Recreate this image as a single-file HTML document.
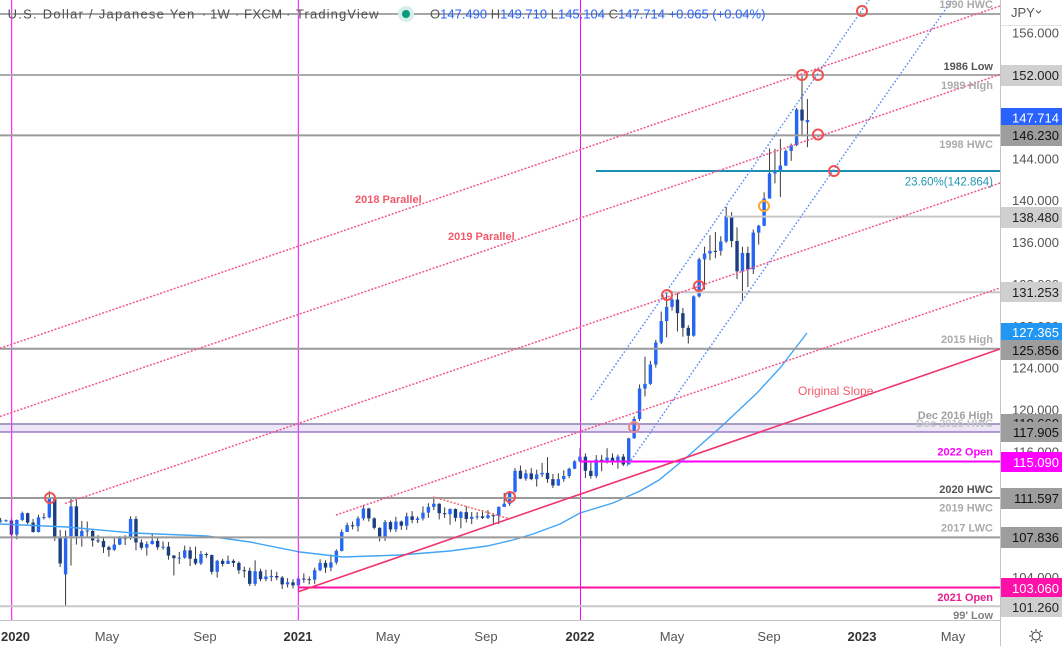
<!DOCTYPE html>
<html>
<head>
<meta charset="utf-8">
<style>
  html,body{margin:0;padding:0;background:#fff;}
  svg{display:block;font-family:"Liberation Sans",Arial,sans-serif;}
</style>
</head>
<body>
<svg id="s" width="1062" height="646" viewBox="0 0 1062 646" xmlns="http://www.w3.org/2000/svg">
  <rect x="0" y="0" width="1062" height="646" fill="#ffffff"/>

  <!-- Dec 2016 band -->
  <rect x="0" y="424" width="1000" height="8" fill="#ece6f6"/>

  <!-- candles (generated) -->
  <g id="candles"></g>

  <!-- Moving average -->
  <polyline fill="none" stroke="#42a5f5" stroke-width="1.4"
    points="0,524 67,527 133,533 207,536 250,542 300,552 343,557 400,555 450,551 487,546 513,540 533,534 560,524 580,513 613,503 640,491 659,480 687,457 723,425 757,393 780,368 807,333"/>

  <!-- vertical magenta lines -->
  <line x1="11.7" y1="0" x2="11.7" y2="620" stroke="#ff00ff" stroke-width="1"/>
  <line x1="298.3" y1="0" x2="298.3" y2="620" stroke="#ff00ff" stroke-width="1"/>
  <line x1="580.5" y1="0" x2="580.5" y2="620" stroke="#ff00ff" stroke-width="1"/>

  <!-- horizontal levels -->
  <line x1="0" y1="14" x2="1000" y2="14" stroke="#a6a6a6" stroke-width="2"/>
  <line x1="0" y1="75" x2="1000" y2="75" stroke="#ababab" stroke-width="2"/>
  <line x1="0" y1="135.4" x2="1000" y2="135.4" stroke="#9a9a9a" stroke-width="2"/>
  <line x1="596" y1="171" x2="1000" y2="171" stroke="#1b8fb3" stroke-width="2"/>
  <line x1="726" y1="216.6" x2="1000" y2="216.6" stroke="#c8c8c8" stroke-width="2"/>
  <line x1="666" y1="292.2" x2="1000" y2="292.2" stroke="#c8c8c8" stroke-width="2"/>
  <line x1="0" y1="348.7" x2="1000" y2="348.7" stroke="#9a9a9a" stroke-width="2"/>
  <line x1="0" y1="424" x2="1000" y2="424" stroke="#8c80b0" stroke-width="1.5"/>
  <line x1="0" y1="432" x2="1000" y2="432" stroke="#9a7ccb" stroke-width="1.5"/>
  <line x1="580" y1="461.5" x2="1000" y2="461.5" stroke="#ff00ff" stroke-width="2"/>
  <line x1="0" y1="498" x2="1000" y2="498" stroke="#9a9a9a" stroke-width="2"/>
  <line x1="0" y1="537.4" x2="1000" y2="537.4" stroke="#9a9a9a" stroke-width="2"/>
  <line x1="298" y1="587.5" x2="1000" y2="587.5" stroke="#ff0fa5" stroke-width="2"/>
  <line x1="0" y1="606.2" x2="1000" y2="606.2" stroke="#c8c8c8" stroke-width="2"/>

  <!-- pink dotted parallels -->
  <g stroke="#f2578a" stroke-width="1.5" stroke-dasharray="2 1.6" fill="none">
    <line x1="0" y1="348.3" x2="1000" y2="6"/>
    <line x1="0" y1="416.5" x2="1000" y2="74.5"/>
    <line x1="65" y1="503.5" x2="1000" y2="183"/>
    <line x1="336" y1="515" x2="1000" y2="288"/>
  </g>
  <!-- 2021 descending dotted -->
  <line x1="433" y1="497" x2="510" y2="519" stroke="#ef6f6f" stroke-width="1.5" stroke-dasharray="2 1.6"/>

  <!-- Original slope -->
  <line x1="298.3" y1="591.7" x2="1000" y2="349" stroke="#f0346c" stroke-width="1.6"/>

  <!-- blue dotted channel -->
  <g stroke="#5b8ff0" stroke-width="1.5" stroke-dasharray="1.6 2" fill="none">
    <line x1="591" y1="400" x2="869" y2="0"/>
    <line x1="627" y1="466" x2="952" y2="0"/>
  </g>

  <!-- circles -->
  <g fill="none" stroke="#f05252" stroke-width="2">
    <circle cx="50" cy="498" r="5"/>
    <circle cx="510" cy="497" r="5"/>
    <circle cx="634" cy="427" r="5" stroke="#e88a8a"/>
    <circle cx="667" cy="295" r="5"/>
    <circle cx="699" cy="286" r="5"/>
    <circle cx="802" cy="75" r="5"/>
    <circle cx="818" cy="75" r="5"/>
    <circle cx="818" cy="134.5" r="5"/>
    <circle cx="834" cy="171" r="5"/>
    <circle cx="862" cy="11" r="5"/>
    <circle cx="764" cy="206" r="5" stroke="#ffa726"/>
  </g>

  <!-- chart labels -->
  <g font-size="11" font-weight="bold" text-anchor="end">
    <text x="993" y="8" fill="#ababab">1990 HWC</text>
    <text x="993" y="70" fill="#555555">1986 Low</text>
    <text x="993" y="89" fill="#ababab">1989 High</text>
    <text x="993" y="148" fill="#ababab">1998 HWC</text>
    <text x="993" y="185.5" fill="#2196b3" font-weight="normal" font-size="11.5">23.60%(142.864)</text>
    <text x="993" y="343" fill="#ababab">2015 High</text>
    <text x="993" y="427" fill="#c4c4c4">Dec 2016 HWC</text>
    <text x="993" y="419" fill="#a0a0a0">Dec 2016 High</text>
    <text x="993" y="455.5" fill="#ff00ff">2022 Open</text>
    <text x="993" y="493" fill="#555555">2020 HWC</text>
    <text x="993" y="511.5" fill="#ababab">2019 HWC</text>
    <text x="993" y="531.5" fill="#ababab">2017 LWC</text>
    <text x="993" y="601" fill="#e91e8c">2021 Open</text>
    <text x="993" y="619" fill="#808080">99' Low</text>
  </g>
  <g font-size="11" font-weight="bold" fill="#f05a6a">
    <text x="355" y="203">2018 Parallel</text>
    <text x="448" y="240">2019 Parallel</text>
    <text x="798" y="395" font-weight="normal" font-size="12">Original Slope</text>
  </g>

  <!-- axes area -->
  <rect x="1001" y="0" width="61" height="646" fill="#ffffff"/>
  <rect x="0" y="621" width="1001" height="25" fill="#ffffff"/>
  <line x1="1000.5" y1="0" x2="1000.5" y2="646" stroke="#c4c4c4" stroke-width="1"/>
  <line x1="0" y1="620.5" x2="1001" y2="620.5" stroke="#c4c4c4" stroke-width="1"/>
  <line x1="1001" y1="25.5" x2="1062" y2="25.5" stroke="#e3e3e3" stroke-width="1"/>

  <!-- JPY -->
  <text x="1011" y="17" font-size="13" fill="#555">JPY</text>
  <polyline points="1036,10.5 1038.5,13 1041,10.5" fill="none" stroke="#555" stroke-width="1"/>

  <!-- tick labels -->
  <g font-size="13" fill="#555" text-anchor="end">
    <text x="1059" y="37.6">156.000</text>
    <text x="1059" y="163.3">144.000</text>
    <text x="1059" y="205.1">140.000</text>
    <text x="1059" y="247">136.000</text>
    <text x="1059" y="288.9">132.000</text>
    <text x="1059" y="330.8">128.000</text>
    <text x="1059" y="372.6">124.000</text>
    <text x="1059" y="414.5">120.000</text>
    <text x="1059" y="456.4">116.000</text>
    <text x="1059" y="581.9">104.000</text>
  </g>

  <!-- price boxes -->
  <g font-size="13" text-anchor="end">
    <rect x="1001" y="65" width="61" height="21" fill="#d0d0d0"/>
    <text x="1059" y="80" fill="#222">152.000</text>
    <rect x="1001" y="108" width="61" height="20" fill="#2962ff"/>
    <text x="1059" y="122.5" fill="#fff">147.714</text>
    <rect x="1001" y="125" width="61" height="21" fill="#9d9d9d"/>
    <text x="1059" y="140" fill="#111">146.230</text>
    <rect x="1001" y="207" width="61" height="21" fill="#cfcfcf"/>
    <text x="1059" y="222" fill="#222">138.480</text>
    <rect x="1001" y="282" width="61" height="20" fill="#cfcfcf"/>
    <text x="1059" y="297" fill="#222">131.253</text>
    <rect x="1001" y="323" width="61" height="18" fill="#2196f3"/>
    <text x="1059" y="337" fill="#fff">127.365</text>
    <rect x="1001" y="340" width="61" height="20" fill="#9d9d9d"/>
    <text x="1059" y="355" fill="#111">125.856</text>
    <rect x="1001" y="414" width="61" height="20" fill="#9d9d9d"/>
    <text x="1059" y="428" fill="#111">118.660</text>
    <rect x="1001" y="422" width="61" height="20" fill="#9d9d9d"/>
    <text x="1059" y="437" fill="#111">117.905</text>
    <rect x="1001" y="452" width="61" height="20" fill="#ff00ff"/>
    <text x="1059" y="467" fill="#fff">115.090</text>
    <rect x="1001" y="488" width="61" height="21" fill="#9d9d9d"/>
    <text x="1059" y="503" fill="#111">111.597</text>
    <rect x="1001" y="527" width="61" height="21" fill="#9d9d9d"/>
    <text x="1059" y="542" fill="#111">107.836</text>
    <rect x="1001" y="578" width="61" height="20" fill="#ff10a8"/>
    <text x="1059" y="593" fill="#fff">103.060</text>
    <rect x="1001" y="597" width="61" height="20" fill="#cfcfcf"/>
    <text x="1059" y="612" fill="#222">101.260</text>
  </g>

  <!-- time axis -->
  <g font-size="13" fill="#555" text-anchor="middle">
    <text x="1" y="641" text-anchor="start" font-weight="bold" fill="#333">2020</text>
    <text x="107" y="641">May</text>
    <text x="205" y="641">Sep</text>
    <text x="298" y="641" font-weight="bold" fill="#333">2021</text>
    <text x="388" y="641">May</text>
    <text x="486" y="641">Sep</text>
    <text x="580" y="641" font-weight="bold" fill="#333">2022</text>
    <text x="672" y="641">May</text>
    <text x="769" y="641">Sep</text>
    <text x="862" y="641" font-weight="bold" fill="#333">2023</text>
    <text x="953" y="641">May</text>
  </g>

  <!-- gear -->
  <g stroke="#333" stroke-width="1" fill="none">
    <circle cx="1036" cy="636" r="4"/>
    <line x1="1036" y1="629" x2="1036" y2="631"/>
    <line x1="1036" y1="641" x2="1036" y2="643"/>
    <line x1="1029" y1="636" x2="1031" y2="636"/>
    <line x1="1041" y1="636" x2="1043" y2="636"/>
    <line x1="1031" y1="631" x2="1032.4" y2="632.4"/>
    <line x1="1039.6" y1="639.6" x2="1041" y2="641"/>
    <line x1="1041" y1="631" x2="1039.6" y2="632.4"/>
    <line x1="1032.4" y1="639.6" x2="1031" y2="641"/>
  </g>

  <!-- header -->
  <g font-size="13" fill="#4f4f4f">
    <text x="7.6" y="18.5" letter-spacing="1.25">U.S. Dollar / Japanese Yen</text>
    <text x="202" y="18.5">·</text>
    <text x="210" y="18.5" letter-spacing="0.3">1W</text>
    <text x="235" y="18.5">·</text>
    <text x="244" y="18.5" letter-spacing="0.4">FXCM</text>
    <text x="286" y="18.5">·</text>
    <text x="296" y="18.5" letter-spacing="1.1">TradingView</text>
  </g>
  <circle cx="406" cy="14" r="8" fill="#d4efe8"/>
  <circle cx="406" cy="14" r="4" fill="#089981"/>
  <text x="430" y="18.5" font-size="13" fill="#2962ff"><tspan fill="#555">O</tspan>147.490 <tspan fill="#555">H</tspan>149.710 <tspan fill="#555">L</tspan>145.104 <tspan fill="#555">C</tspan>147.714 +0.065 (+0.04%)</text>
</svg>

<script>
(function(){
  var data = [
  [109.35,109.70,109.25,109.45],
  [109.45,109.55,109.30,109.48],
  [109.45,109.70,107.85,108.10],
  [108.10,109.55,107.65,109.50],
  [109.50,110.30,109.40,110.15],
  [110.15,110.20,109.10,109.25],
  [109.25,109.60,108.30,108.35],
  [108.35,110.00,108.30,109.75],
  [109.75,110.15,109.55,109.78],
  [109.75,112.25,109.65,111.60],
  [111.60,111.70,107.50,107.90],
  [107.90,108.55,105.00,105.35],
  [104.30,108.50,101.20,107.95],
  [107.95,111.55,105.15,110.80],
  [110.80,111.70,107.15,107.95],
  [107.95,109.40,106.95,108.45],
  [108.45,109.35,107.90,108.50],
  [108.45,108.60,106.95,107.55],
  [107.55,108.05,107.30,107.50],
  [107.50,107.80,106.35,106.90],
  [106.90,107.05,106.00,106.65],
  [106.65,107.75,106.55,107.15],
  [107.15,107.95,107.10,107.80],
  [107.80,108.05,107.10,107.75],
  [107.80,109.85,107.60,109.60],
  [109.60,109.85,106.60,107.35],
  [107.35,107.65,106.65,106.85],
  [106.85,107.45,106.10,107.20],
  [107.20,108.15,107.15,107.50],
  [107.50,107.80,106.65,106.90],
  [106.90,107.45,106.65,106.95],
  [106.95,107.40,105.70,106.10],
  [106.10,106.15,104.20,105.85],
  [105.85,106.45,105.30,105.90],
  [105.90,107.05,105.80,106.60],
  [106.60,106.95,105.10,105.80],
  [105.80,106.95,105.20,105.35],
  [105.35,106.55,105.20,106.25],
  [106.25,106.40,105.90,106.15],
  [106.15,106.20,104.30,104.55],
  [104.55,105.70,104.00,105.60],
  [105.60,105.80,105.05,105.30],
  [105.30,106.10,105.30,105.60],
  [105.60,105.75,105.00,105.40],
  [105.40,105.55,104.35,104.70],
  [104.70,105.05,104.00,104.65],
  [104.65,104.95,103.20,103.40],
  [103.40,105.65,103.20,104.60],
  [104.60,104.85,103.65,103.85],
  [103.85,104.75,103.65,104.10],
  [104.10,104.75,103.65,104.15],
  [104.15,104.55,103.75,104.00],
  [104.00,104.15,102.90,103.35],
  [103.35,103.95,103.05,103.55],
  [103.55,103.85,102.95,103.25],
  [103.25,104.10,102.60,103.90],
  [103.90,104.40,103.50,103.85],
  [103.85,104.10,103.35,103.80],
  [103.80,104.95,103.40,104.70],
  [104.70,105.75,104.60,105.40],
  [105.40,105.65,104.45,104.95],
  [104.95,106.20,104.60,105.45],
  [105.45,106.70,105.25,106.55],
  [106.55,108.60,106.50,108.35],
  [108.35,109.25,108.35,109.00],
  [109.00,109.35,108.60,108.90],
  [108.90,109.85,108.40,109.65],
  [109.65,110.95,109.45,110.60],
  [110.60,110.65,109.35,109.65],
  [109.65,109.75,108.60,108.75],
  [108.75,108.80,107.45,107.90],
  [107.90,109.50,107.50,109.30],
  [109.30,109.45,108.35,108.60],
  [108.60,109.80,108.35,109.35],
  [109.35,109.45,108.55,108.95],
  [108.95,110.20,108.55,109.85],
  [109.85,110.35,109.20,109.50],
  [109.50,109.85,109.20,109.65],
  [109.65,110.80,109.45,110.20],
  [110.20,111.10,109.70,110.75],
  [110.75,111.65,110.45,111.05],
  [111.05,111.10,109.55,110.15],
  [110.15,110.70,109.70,110.05],
  [110.05,110.60,109.05,110.55],
  [110.55,110.60,109.35,109.70],
  [109.70,110.35,108.70,110.25],
  [110.25,110.80,109.25,109.60],
  [109.60,110.25,109.10,109.80],
  [109.80,110.25,109.55,109.85],
  [109.85,110.45,109.60,109.70],
  [109.70,110.45,109.60,109.95],
  [109.95,110.15,109.10,109.90],
  [109.90,110.80,109.10,110.75],
  [110.75,112.10,110.75,111.05],
  [111.05,112.25,110.85,112.20],
  [112.20,114.45,112.10,114.20],
  [114.20,114.70,113.40,113.45],
  [113.45,114.30,113.25,113.95],
  [113.95,114.45,113.30,113.40],
  [113.40,114.30,112.70,113.85],
  [113.85,114.95,113.60,114.00],
  [114.00,115.50,113.05,113.40],
  [113.40,113.90,112.55,112.80],
  [112.80,113.95,112.75,113.40],
  [113.40,114.25,113.15,113.70],
  [113.70,114.50,113.50,114.40],
  [114.40,115.20,114.35,115.10],
  [115.10,116.35,115.00,115.55],
  [115.55,115.85,113.50,114.20],
  [114.20,115.05,113.45,113.70],
  [113.70,115.70,113.50,115.25],
  [115.25,115.70,114.15,115.20],
  [115.20,116.35,114.90,115.45],
  [115.45,115.85,114.75,115.00],
  [115.00,115.75,114.40,115.55],
  [115.55,115.80,114.65,114.80],
  [114.80,117.35,114.80,117.30],
  [117.30,119.40,117.25,119.15],
  [119.15,122.45,118.95,122.05],
  [122.05,125.10,121.30,122.50],
  [122.50,124.70,122.40,124.35],
  [124.35,126.70,124.05,126.45],
  [126.45,129.40,126.30,128.50],
  [128.50,131.25,126.95,129.85],
  [129.85,131.35,129.50,130.55],
  [130.55,131.25,127.50,129.25],
  [129.25,129.75,127.00,127.85],
  [127.85,128.10,126.35,127.10],
  [127.10,130.95,127.00,130.85],
  [130.85,134.55,130.75,134.40],
  [134.40,135.60,131.50,134.95],
  [134.95,136.70,134.30,135.20],
  [135.20,137.00,134.50,135.10],
  [135.20,136.60,134.75,136.10],
  [136.10,139.40,135.95,138.55],
  [138.55,138.90,135.55,136.15],
  [136.15,137.45,132.50,133.25],
  [133.25,135.60,130.40,135.00],
  [135.00,135.60,131.75,133.45],
  [133.45,137.25,133.00,136.95],
  [136.95,137.70,135.80,137.60],
  [137.60,140.80,137.55,140.20],
  [140.20,144.99,140.20,142.60],
  [142.60,144.95,141.65,142.90],
  [142.90,145.90,140.35,143.35],
  [143.35,144.90,143.30,144.75],
  [144.75,145.45,143.80,145.30],
  [145.30,148.85,145.20,148.70],
  [148.70,151.95,146.20,147.65],
  [147.49,149.71,145.10,147.71]
  ];
  function Y(p){ return 75 + (152 - p) * 10.47; }
  var n = data.length, s = '';
  for (var k = 0; k < n; k++) {
    var i = k - (n - 1) + 42;
    var x = 580 + i * 5.415;
    if (x < -4) continue;
    var d = data[k], o = d[0], h = d[1], l = d[2], c = d[3];
    var bull = c >= o;
    var col = bull ? '#2566f5' : '#1b3e82';
    var yo = Y(o), yc = Y(c);
    var top = Math.min(yo, yc), hh = Math.max(1, Math.abs(yo - yc));
    s += '<line x1="' + x.toFixed(2) + '" x2="' + x.toFixed(2) + '" y1="' + Y(h).toFixed(2) + '" y2="' + Y(l).toFixed(2) + '" stroke="#3a3a3a" stroke-width="1"/>';
    s += '<rect x="' + (x - 1.7).toFixed(2) + '" y="' + top.toFixed(2) + '" width="3.4" height="' + hh.toFixed(2) + '" fill="' + col + '"/>';
  }
  document.getElementById('candles').innerHTML = s;
})();
</script>
</body>
</html>
